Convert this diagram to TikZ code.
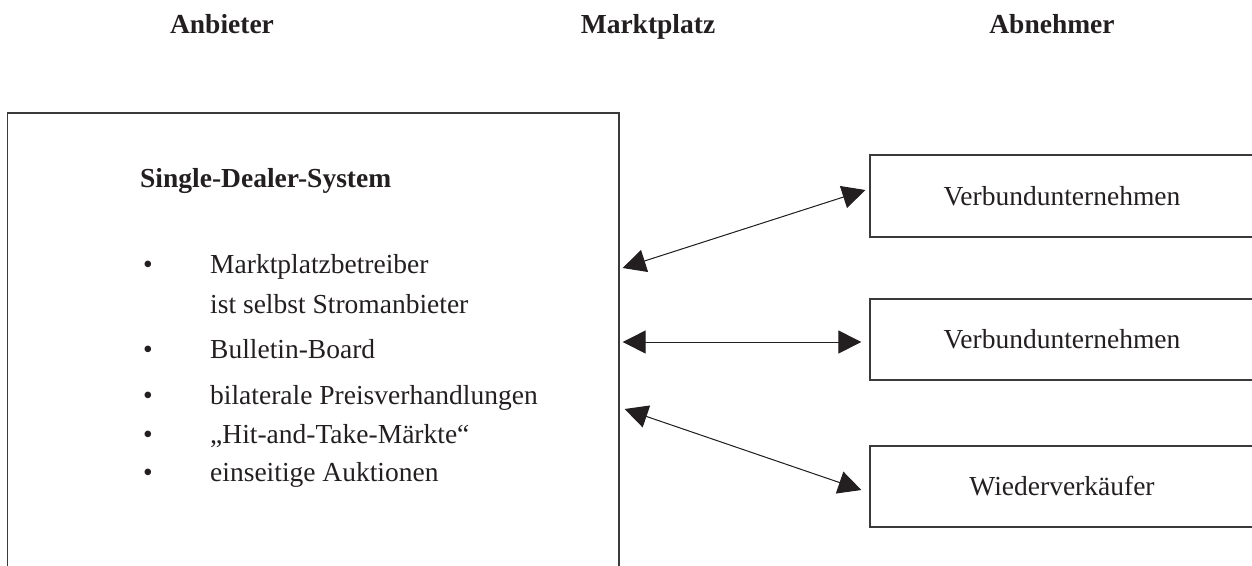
\documentclass[tikz,border=0pt]{standalone}
\usepackage{fontspec}
\setmainfont{Liberation Serif}
\usetikzlibrary{arrows.meta}
\definecolor{ink}{HTML}{231F20}
\definecolor{boxline}{HTML}{3A3A3A}
\tikzset{
  every node/.style={font=\fontsize{27.5}{33}\selectfont, text=ink, inner sep=0pt},
  heading/.style={font=\fontsize{27.5}{33}\selectfont\bfseries, anchor=base},
  frame/.style={draw=boxline, line width=1.3pt},
  item/.style={anchor=base west},
  bulletmark/.style={anchor=base},
  link/.style={draw=ink, line width=1pt, {Triangle[length=23pt,width=23pt]}-{Triangle[length=23pt,width=23pt]}, fill=ink}
}
\begin{document}
\begin{tikzpicture}[x=1pt,y=-1pt]
\useasboundingbox (0,0) rectangle (1252,565);
% headings
\node[heading] (h1) at (222,33) {Anbieter};
\node[heading] (h2) at (648,33) {Marktplatz};
\node[heading] (h3) at (1052,33) {Abnehmer};
% big box
\node[frame, minimum width=611.5pt, minimum height=470pt] (big) at (313.25,348) {};
\node[item, font=\fontsize{27.5}{33}\selectfont\bfseries] (title) at (140,187) {Single-Dealer-System};
\node[bulletmark] (b1) at (148,273) {•};
\node[item] (t1) at (210,273) {Marktplatzbetreiber};
\node[item] (t1b) at (210,313) {ist selbst Stromanbieter};
\node[bulletmark] (b2) at (148,358) {•};
\node[item] (t2) at (210,358) {Bulletin-Board};
\node[bulletmark] (b3) at (148,404) {•};
\node[item] (t3) at (210,404) {bilaterale Preisverhandlungen};
\node[bulletmark] (b4) at (148,443) {•};
\node[item] (t4) at (210,443) {„Hit-and-Take-Märkte“};
\node[bulletmark] (b5) at (148,481) {•};
\node[item] (t5) at (210,481) {einseitige Auktionen};
% right boxes
\node[frame, minimum width=384pt, minimum height=82pt] (r1) at (1062,196) {Verbundunternehmen};
\node[frame, minimum width=384pt, minimum height=81pt] (r2) at (1062,339.5) {Verbundunternehmen};
\node[frame, minimum width=384pt, minimum height=81pt] (r3) at (1062,486.5) {Wiederverkäufer};
% connector ends
\coordinate (a1) at ([xshift=3pt]big.east |- 0,268);
\coordinate (c1) at ([xshift=-4pt]r1.west |- 0,190);
\coordinate (a2) at ([xshift=3pt]big.east |- 0,342);
\coordinate (c2) at ([xshift=-8pt]r2.west |- 0,342);
\coordinate (a3) at ([xshift=5pt]big.east |- 0,409);
\coordinate (c3) at ([xshift=-8pt]r3.west |- 0,490);
\draw[link] (a1) -- (c1);
\draw[link] (a2) -- (c2);
\draw[link] (a3) -- (c3);
\end{tikzpicture}
\end{document}
